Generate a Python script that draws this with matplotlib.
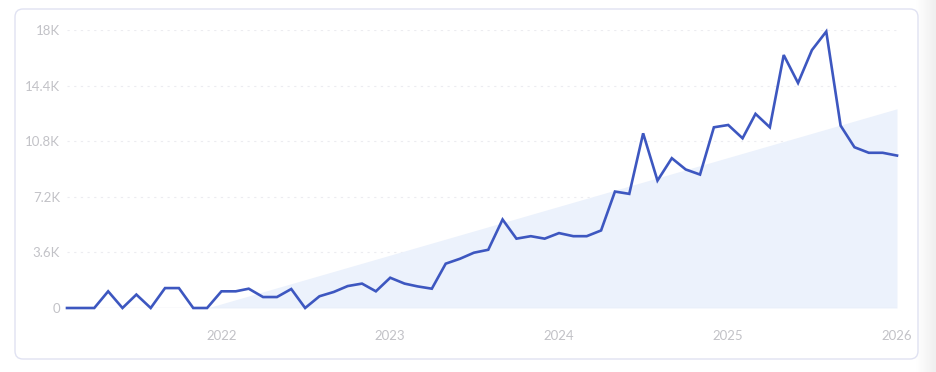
import matplotlib
matplotlib.use("Agg")
import matplotlib.pyplot as plt
import matplotlib.dates as mdates
from matplotlib.patches import FancyBboxPatch
import numpy as np
import pandas as pd

# ---- data ----
months = pd.date_range("2021-02-01", "2026-01-01", freq="MS")
values = [
    0, 0, 0, 1080, 0, 870, 0, 1290, 1290, 0, 0,            # 2021-02 .. 2021-12
    1080, 1080, 1250, 710, 710, 1230, 0, 760, 1040, 1420, 1580, 1080,  # 2022
    1960, 1580, 1400, 1250, 2870, 3190, 3580, 3770, 5730, 4490, 4650, 4490,  # 2023
    4850, 4650, 4650, 5020, 7540, 7390, 11310, 8250, 9700, 8970, 8640, 11700,  # 2024
    11850, 10990, 12570, 11700, 16380, 14570, 16700, 17900, 11810, 10410, 10050, 10050,  # 2025
    9870,                                                    # 2026-01
]
trend_dates = pd.to_datetime(["2021-12-01", "2026-01-01"])
trend_values = [0, 12900]
y_ticks = [0, 3600, 7200, 10800, 14400, 18000]
y_labels = ["0", "3.6K", "7.2K", "10.8K", "14.4K", "18K"]
x_ticks = pd.to_datetime(["2022-01-01", "2023-01-01", "2024-01-01", "2025-01-01", "2026-01-01"])
x_labels = ["2022", "2023", "2024", "2025", "2026"]

W, H = 936, 372
fig = plt.figure(figsize=(W / 100, H / 100), dpi=100)
fig.patch.set_facecolor("white")

# background gradient on the right edge
bg = fig.add_axes([0, 0, 1, 1], zorder=-10)
bg.set_xlim(0, W); bg.set_ylim(H, 0); bg.axis("off")
grad = np.ones((2, W, 3))
xs = np.arange(W)
shade = np.clip((xs - 916) / 20.0, 0, 1)
for c in range(3):
    grad[:, :, c] = 1 - shade * (1 - 0.935)
bg.imshow(grad, extent=[0, W, H, 0], aspect="auto", interpolation="bilinear")
card = FancyBboxPatch((15, 9), 903, 350, boxstyle="round,pad=0,rounding_size=8",
                      facecolor="white", edgecolor="#E0E2F2", linewidth=1.0)
bg.add_patch(card)

# main axes
left, right = 67 / W, 897 / W
bottom, top = 1 - 308 / H, 1 - 30 / H
ax = fig.add_axes([left, bottom, right - left, top - bottom])
ax.patch.set_alpha(0)

tx = mdates.date2num(trend_dates)
ax.fill_between(tx, [0, 0], trend_values, color="#ECF2FC", linewidth=0, zorder=1)

for yt in y_ticks[1:]:
    ax.axhline(yt, color="#ECECF0", linewidth=0.8, linestyle=(0, (2, 4)), zorder=0)
ax.axhline(0, color="#E6E8F2", linewidth=1.0, zorder=2)

ax.plot(mdates.date2num(months), values, color="#3D57C0", linewidth=1.9,
        solid_joinstyle="miter", zorder=3, clip_on=False)

ax.set_xlim(mdates.date2num(months[0]), mdates.date2num(months[-1]))
ax.set_ylim(0, 18000)
ax.set_yticks(y_ticks)
ax.set_yticklabels(y_labels)
ax.set_xticks(mdates.date2num(x_ticks))
ax.set_xticklabels(x_labels)
for s in ax.spines.values():
    s.set_visible(False)
ax.tick_params(axis="both", length=0, labelcolor="#C2C2C7", labelsize=9.5)
ax.tick_params(axis="y", pad=5)
ax.tick_params(axis="x", pad=16)
for lab in ax.get_xticklabels() + ax.get_yticklabels():
    lab.set_fontfamily("Lato")

fig.savefig("out.png", dpi=100)
